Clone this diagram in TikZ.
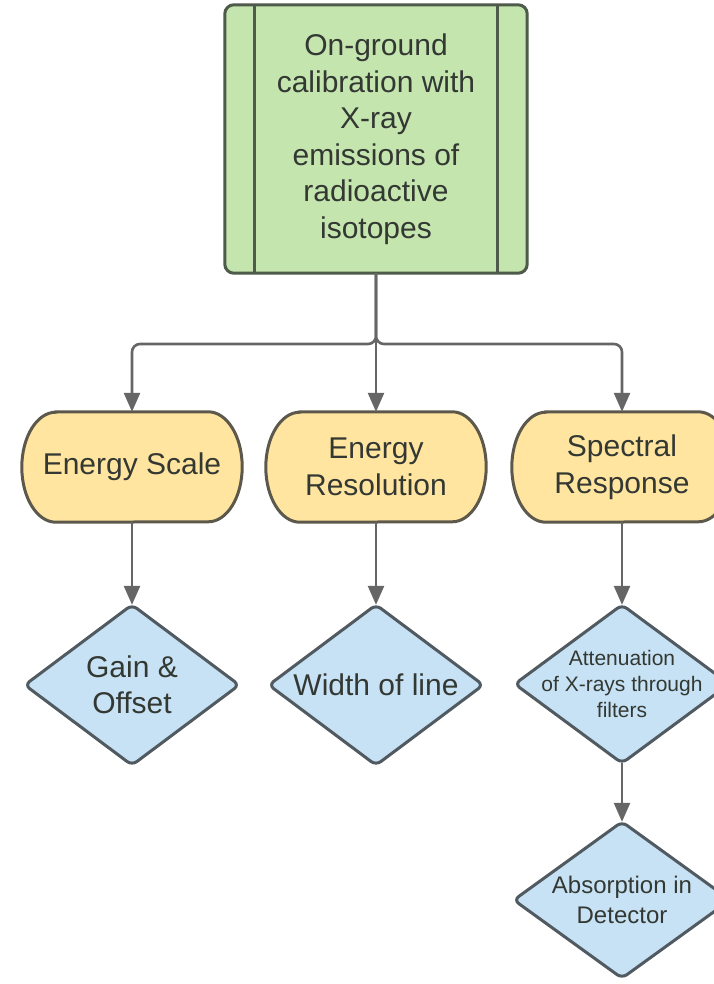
\documentclass[tikz,border=0pt]{standalone}
\usepackage{fontspec}
\setmainfont{Liberation Sans}
\usetikzlibrary{arrows.meta,backgrounds}
\definecolor{txt}{HTML}{333833}
\definecolor{arrc}{HTML}{666666}
\definecolor{gfill}{HTML}{C5E5AF}
\definecolor{gline}{HTML}{4E5A4A}
\definecolor{yfill}{HTML}{FFE59F}
\definecolor{yline}{HTML}{5C584C}
\definecolor{bfill}{HTML}{C7E2F4}
\definecolor{bline}{HTML}{505A60}
\tikzset{
  base/.style={inner sep=0pt, align=center, text=txt, font=\fontsize{30}{36.5}\selectfont},
  topbox/.style={base, minimum width=302pt, minimum height=268pt},
  ovalbox/.style={base, minimum width=220pt, minimum height=110pt},
  diabox/.style={base, minimum width=214pt, minimum height=160pt},
  arr/.style={draw=arrc, line width=2.6pt, -{Triangle[width=16pt,length=19pt]}},
  gshape/.style={fill=gfill, draw=gline, line width=3pt},
  glines/.style={draw=gline, line width=3pt},
  yshape/.style={fill=yfill, draw=yline, line width=3pt},
  bshape/.style={fill=bfill, draw=bline, line width=3pt, rounded corners=6pt},
}
\newcommand{\ovalpath}[2]{%
  \draw[#1] ([xshift=34pt]#2.north west) -- ([xshift=-34pt]#2.north east)
    arc[start angle=90, end angle=-90, x radius=34pt, y radius=55pt]
    -- ([xshift=34pt]#2.south west)
    arc[start angle=270, end angle=90, x radius=34pt, y radius=55pt] -- cycle;}
\newcommand{\diapath}[2]{%
  \draw[#1] (#2.north) -- (#2.east) -- (#2.south) -- (#2.west) -- cycle;}
\begin{document}
\begin{tikzpicture}[x=1pt,y=1pt]
\useasboundingbox (0,0) rectangle (713,-984);

\node[topbox] (top) at (376,-139) {On-ground\\calibration with\\X-ray\\emissions of\\radioactive\\isotopes};

\node[ovalbox] (o1) at (132,-467) {Energy Scale};
\node[ovalbox] (o2) at (376,-467) {Energy\\Resolution};
\node[ovalbox] (o3) at (622,-467) {Spectral\\Response};

\node[diabox] (d1) at (132,-685) {Gain \&\\Offset};
\node[diabox] (d2) at (376,-685) {Width of line};
\node[diabox, minimum height=158pt, font=\fontsize{21}{26}\selectfont] (d3) at (622,-684) {Attenuation\\of X-rays through\\filters};
\node[diabox, minimum width=216pt, minimum height=156pt, font=\fontsize{24}{30}\selectfont] (d4) at (622,-900) {Absorption in\\Detector};

\coordinate (bar) at (376,-344);

\begin{scope}[on background layer]
  \fill[white] (0,0) rectangle (713,-984);
  \draw[gshape, rounded corners=9pt] (top.north west) rectangle (top.south east);
  \draw[glines] ([xshift=30pt]top.north west) -- ([xshift=30pt]top.south west);
  \draw[glines] ([xshift=-30pt]top.north east) -- ([xshift=-30pt]top.south east);
  \ovalpath{yshape}{o1}
  \ovalpath{yshape}{o2}
  \ovalpath{yshape}{o3}
  \diapath{bshape}{d1}
  \diapath{bshape}{d2}
  \diapath{bshape}{d3}
  \diapath{bshape}{d4}
\end{scope}

\draw[arr, rounded corners=8pt] (top.south) |- (o1.north |- bar) -- (o1.north);
\draw[arr] (top.south) -- (o2.north);
\draw[arr, rounded corners=8pt] (top.south) |- (o3.north |- bar) -- (o3.north);

\draw[arr] (o1.south) -- (d1.north);
\draw[arr] (o2.south) -- (d2.north);
\draw[arr] (o3.south) -- (d3.north);
\draw[arr] (d3.south) -- (d4.north);
\end{tikzpicture}
\end{document}
